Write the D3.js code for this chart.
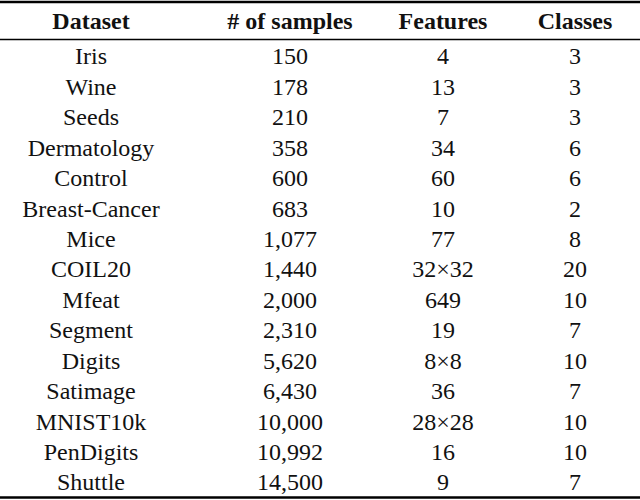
<!DOCTYPE html>
<html>
<head>
<meta charset="utf-8">
<script src="https://cdn.jsdelivr.net/npm/d3@7"></script>
<style>
  body { margin: 0; background: #fff; }
</style>
</head>
<body>
<div id="chart"></div>
<script>
var headers = ['Dataset', '# of samples', 'Features', 'Classes']
var datasets = ['Iris', 'Wine', 'Seeds', 'Dermatology', 'Control', 'Breast-Cancer', 'Mice', 'COIL20', 'Mfeat', 'Segment', 'Digits', 'Satimage', 'MNIST10k', 'PenDigits', 'Shuttle']
var samples = [150, 178, 210, 358, 600, 683, 1077, 1440, 2000, 2310, 5620, 6430, 10000, 10992, 14500]
var features = ['4', '13', '7', '34', '60', '10', '77', '32×32', '649', '19', '8×8', '36', '28×28', '16', '9']
var classes = [3, 3, 3, 6, 6, 2, 8, 20, 10, 7, 10, 7, 10, 10, 7]

var width = 640
var height = 500
var font = "'Liberation Serif', 'Times New Roman', Tinos, 'DejaVu Serif', serif"

var svg = d3
  .select('#chart')
  .append('svg')
  .attr('width', width)
  .attr('height', height)

var x = d3.scaleOrdinal().domain(headers).range([91, 290, 443, 575])
var y = d3.scaleLinear().domain([0, datasets.length - 1]).range([56, 482])

var rows = datasets.map((d, i) => [d, d3.format(',')(samples[i]), features[i], String(classes[i])])

// rules
svg.append('line').attr('x1', 0).attr('x2', width).attr('y1', 2).attr('y2', 2)
  .attr('stroke', '#000').attr('stroke-width', 2.5)
svg.append('line').attr('x1', 0).attr('x2', width).attr('y1', 39.5).attr('y2', 39.5)
  .attr('stroke', '#000').attr('stroke-width', 1.5)
svg.append('line').attr('x1', 0).attr('x2', width).attr('y1', 497.5).attr('y2', 497.5)
  .attr('stroke', '#000').attr('stroke-width', 2.5)

svg
  .selectAll('.header')
  .data(headers)
  .enter()
  .append('text')
  .attr('class', 'header')
  .text(d => d)
  .attr('x', d => x(d))
  .attr('y', 21)
  .attr('dy', '0.35em')
  .attr('text-anchor', 'middle')
  .attr('font-family', font)
  .attr('fill', '#111')
  .attr('font-size', 24)
  .attr('font-weight', 700)

var row = svg
  .selectAll('.row')
  .data(rows)
  .enter()
  .append('g')
  .attr('class', 'row')
  .attr('transform', (d, i) => `translate(0,${y(i)})`)

row
  .selectAll('text')
  .data(d => d.map((v, j) => ({ v: v, col: headers[j] })))
  .enter()
  .append('text')
  .text(d => d.v)
  .attr('x', d => x(d.col))
  .attr('dy', '0.35em')
  .attr('text-anchor', 'middle')
  .attr('font-family', font)
  .attr('fill', '#111')
  .attr('font-size', 24)
</script>
</body>
</html>
